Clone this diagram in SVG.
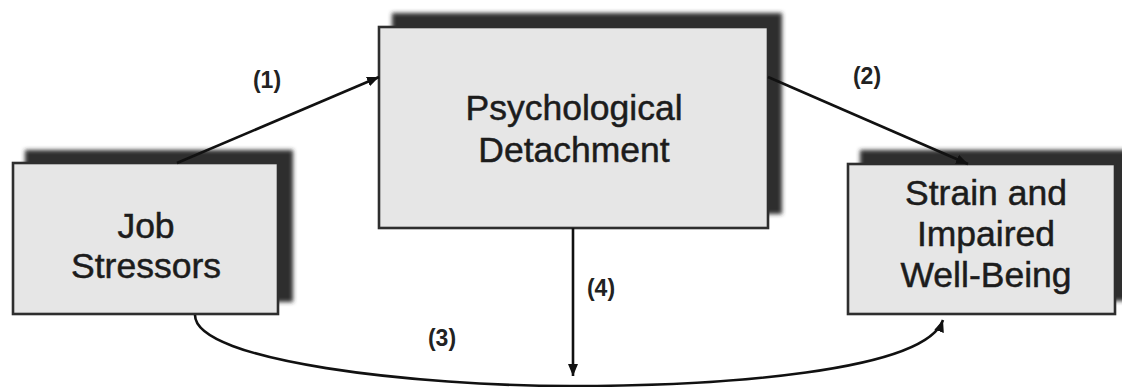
<svg xmlns="http://www.w3.org/2000/svg" width="1122" height="387" viewBox="0 0 1122 387">
<style>
.shadow{fill:#2e2e2e;filter:url(#blur)}
.box{fill:#e6e6e6;stroke:#2e2e2e;stroke-width:2.6}
.label{font-family:"Liberation Sans",Arial,sans-serif;font-size:35.5px;fill:#1c1c1c;stroke:#1c1c1c;stroke-width:0.5;text-anchor:middle}
.num{font-family:"Liberation Sans",Arial,sans-serif;font-size:23px;font-weight:bold;fill:#222;text-anchor:middle}
.conn{fill:none;stroke:#111;stroke-width:2.6}
</style>
<defs>
<filter id="blur" x="-10%" y="-10%" width="120%" height="120%"><feGaussianBlur stdDeviation="2"/></filter>
<marker id="arr" markerUnits="userSpaceOnUse" markerWidth="14" markerHeight="12" refX="12" refY="6" orient="auto">
<path d="M0,1 L12,6 L0,11 Z" fill="#111"/>
</marker>
</defs>
<rect width="1122" height="387" fill="#fff"/>
<g id="job-stressors">
<rect class="shadow" x="25" y="150" width="268" height="152"/>
<rect class="box" x="13" y="163" width="265" height="151"/>
<text class="label" x="146" y="238">Job</text>
<text class="label" x="146" y="278">Stressors</text>
</g>
<g id="psychological-detachment">
<rect class="shadow" x="392" y="13" width="390" height="201"/>
<rect class="box" x="379" y="27" width="389" height="201"/>
<text class="label" x="574" y="120">Psychological</text>
<text class="label" x="574" y="162">Detachment</text>
</g>
<g id="strain">
<rect class="shadow" x="860" y="150" width="275" height="151"/>
<rect class="box" x="848" y="164" width="267" height="150"/>
<text class="label" x="986" y="205">Strain and</text>
<text class="label" x="986" y="246">Impaired</text>
<text class="label" x="986" y="287">Well-Being</text>
</g>
<g id="connectors">
<line class="conn" x1="177" y1="163" x2="379" y2="77" marker-end="url(#arr)"/>
<line class="conn" x1="768" y1="77" x2="968" y2="164" marker-end="url(#arr)"/>
<line class="conn" x1="573" y1="228" x2="573" y2="376" marker-end="url(#arr)"/>
<path class="conn" d="M195,315 C195,362 420,386 570,386 C720,386 925,372 943,320" marker-end="url(#arr)"/>
<text class="num" x="267" y="88">(1)</text>
<text class="num" x="867" y="84">(2)</text>
<text class="num" x="442" y="346">(3)</text>
<text class="num" x="601" y="296">(4)</text>
</g>
</svg>
